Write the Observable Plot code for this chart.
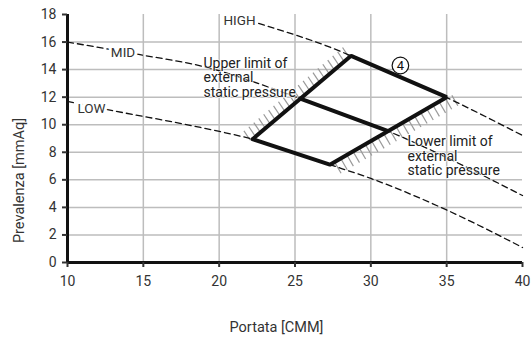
<!DOCTYPE html>
<html>
<head>
<meta charset="utf-8">
<script src="https://cdn.jsdelivr.net/npm/d3@7"></script>
<script src="https://cdn.jsdelivr.net/npm/@observablehq/plot@0.6"></script>
<style>
  html, body { margin: 0; padding: 0; background: #fff; }
</style>
</head>
<body>
<div id="chart"></div>
<script>
// ---- data ----
const xTicks = [10, 15, 20, 25, 30, 35, 40];
const yTicks = [0, 2, 4, 6, 8, 10, 12, 14, 16, 18];
const xGrid = [15, 20, 25, 30, 35];
const yGrid = [2, 4, 6, 8, 10, 12, 14, 16];

const highCurve = [[22.6, 17.35], [27.53, 15.53], [28.7, 15.0], [34.95, 12.0], [40, 9.22]];
const midCurve  = [[10, 16.0], [14.7, 15.1], [18.96, 14.22], [25.35, 11.9], [31.1, 9.55], [40, 4.86]];
const lowCurve  = [[10, 11.7], [12.64, 11.1], [18.77, 9.8], [22.2, 8.95], [27.3, 7.1], [30, 6.1], [34.92, 3.85], [40, 1.09]];

const vLeft = [22.2, 8.95], vTop = [28.7, 15.0], vRight = [35.0, 12.0], vBottom = [27.3, 7.1];
const vMidLeft = [25.35, 11.9], vMidRight = [31.1, 9.55];

const curveLabels = [
  {name: "HIGH", x: 21.34, y: 17.56},
  {name: "MID",  x: 13.66, y: 15.26},
  {name: "LOW",  x: 11.58, y: 11.18}
];
const notes = [
  {text: "Upper limit of\nexternal\nstatic pressure", x: 18.97, y: 14.9},
  {text: "Lower limit of\nexternal\nstatic pressure", x: 32.42, y: 9.22}
];
const markerPos = {label: "4", x: 31.95, y: 14.3};
const xTitle = "Portata [CMM]";
const yTitle = "Prevalenza [mmAq]";

// ---- layout ----
const W = 531, H = 338, mL = 67, mR = 9, mT = 14, mB = 76;
const kx = (W - mL - mR) / 30, ky = (H - mT - mB) / 18;

function hatch(A, B, n, dir, l0, l1, t0, t1) {
  const out = [];
  for (let i = 0; i <= n; i++) {
    const t = t0 + (t1 - t0) * i / n;
    const px = A[0] + t * (B[0] - A[0]);
    const py = A[1] + t * (B[1] - A[1]);
    out.push({
      x1: px + dir[0] * l0 / kx, y1: py - dir[1] * l0 / ky,
      x2: px + dir[0] * l1 / kx, y2: py - dir[1] * l1 / ky
    });
  }
  return out;
}
const hatchUpper = hatch(vLeft, vTop, 20, [-0.55, -0.83], 1, 12, -0.02, 0.98);
const hatchLower = hatch(vBottom, vRight, 19, [0.5, 0.866], 1, 13, 0.04, 1.04);

const diamond = [vLeft, vTop, vRight, vBottom, vLeft];
const midSeg = [vMidLeft, vMidRight];

const dashed = {x: d => d[0], y: d => d[1], stroke: "#111", strokeWidth: 1.3, strokeDasharray: "6,4", curve: "monotone-x"};

const chart = Plot.plot({
  width: W, height: H,
  marginLeft: mL, marginRight: mR, marginTop: mT, marginBottom: mB,
  x: {domain: [10, 40]},
  y: {domain: [0, 18]},
  style: {fontFamily: "Roboto, 'Noto Sans', sans-serif", fontSize: "13.5px", color: "#333", background: "#fff", overflow: "visible"},
  marks: [
    Plot.gridX(xGrid, {stroke: "#bdbdbd", strokeOpacity: 1, strokeWidth: 1.5}),
    Plot.gridY(yGrid, {stroke: "#bdbdbd", strokeOpacity: 1, strokeWidth: 1.5}),
    Plot.link(hatchUpper, {x1: "x1", y1: "y1", x2: "x2", y2: "y2", stroke: "#9a9a9a", strokeWidth: 1.2}),
    Plot.link(hatchLower, {x1: "x1", y1: "y1", x2: "x2", y2: "y2", stroke: "#9a9a9a", strokeWidth: 1.2}),
    Plot.line(highCurve, dashed),
    Plot.line(midCurve, dashed),
    Plot.line(lowCurve, dashed),
    Plot.line(diamond, {x: d => d[0], y: d => d[1], stroke: "#111", strokeWidth: 4, strokeLinejoin: "miter"}),
    Plot.line(midSeg, {x: d => d[0], y: d => d[1], stroke: "#111", strokeWidth: 4}),
    Plot.text(curveLabels, {x: "x", y: "y", text: "name", fontSize: 13.5, fill: "#333", stroke: "#fff", strokeWidth: 6}),
    Plot.text(notes, {x: "x", y: "y", text: "text", textAnchor: "start", lineAnchor: "top", lineHeight: 1.05, fontSize: 14, fill: "#222", stroke: "#fff", strokeWidth: 2, strokeOpacity: 0.7}),
    Plot.dot([markerPos], {x: "x", y: "y", r: 8.3, stroke: "#111", strokeWidth: 1.2, fill: "#fff"}),
    Plot.text([markerPos], {x: "x", y: "y", text: "label", fontSize: 13, fill: "#111"}),
    Plot.ruleX([10], {stroke: "#111", strokeWidth: 3}),
    Plot.ruleY([0], {stroke: "#111", strokeWidth: 3}),
    Plot.axisX({ticks: xTicks, tickSize: 5, tickPadding: 9, strokeWidth: 2, fontSize: 14, label: null, tickFormat: d => String(d)}),
    Plot.axisY({ticks: yTicks, tickSize: 5, tickPadding: 6, strokeWidth: 2, fontSize: 14, label: null, tickFormat: d => String(d)}),
    Plot.text([xTitle], {x: () => 23.78, y: () => -4.72, text: d => d, fontSize: 14.5, fill: "#333"}),
    Plot.text([yTitle], {x: () => 6.8, y: () => 5.95, text: d => d, rotate: -90, fontSize: 14.5, fill: "#333"})
  ]
});
document.getElementById("chart").appendChild(chart);
</script>
</body>
</html>
